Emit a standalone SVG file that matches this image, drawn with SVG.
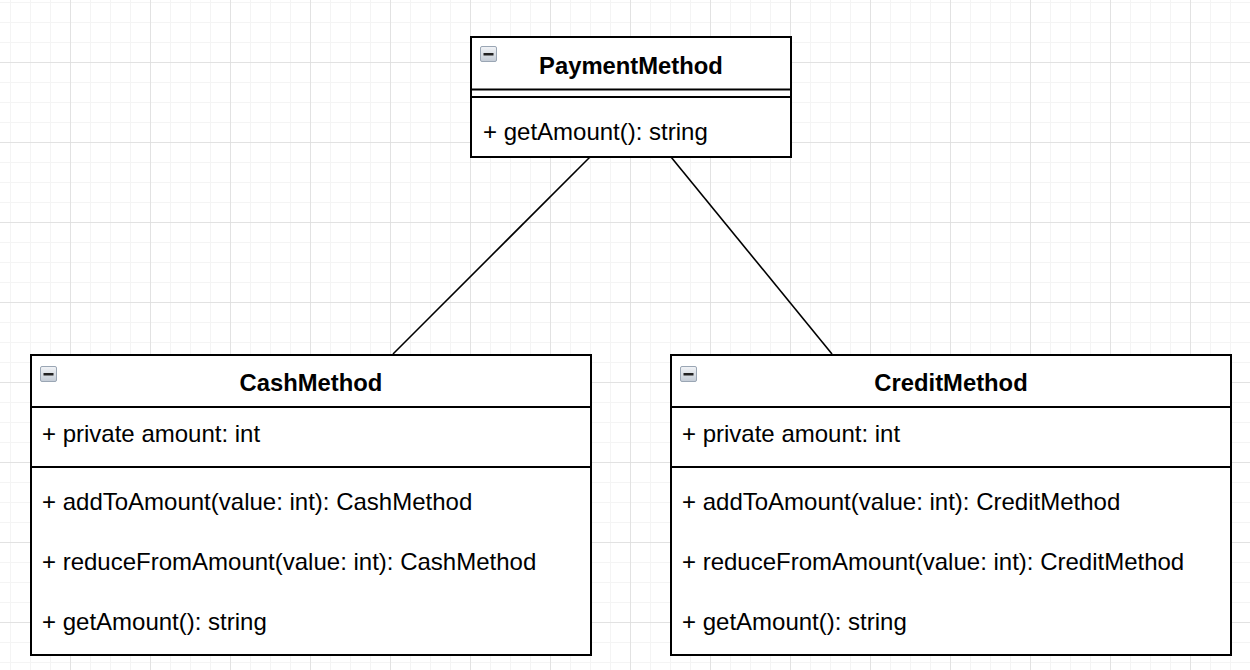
<svg xmlns="http://www.w3.org/2000/svg" width="1250" height="670" viewBox="0 0 1250 670">
<style>
.box{fill:#fff;stroke:#000;stroke-width:2}
.sep{stroke:#000;stroke-width:2}
.title{font-family:"Liberation Sans",Arial,sans-serif;font-size:23.8px;font-weight:bold;fill:#000;text-anchor:middle}
.t{font-family:"Liberation Sans",Arial,sans-serif;font-size:24px;fill:#000}
.edge{stroke:#000;stroke-width:1.6;fill:none}
</style>
<defs>
<pattern id="minor" x="10" y="2" width="20" height="20" patternUnits="userSpaceOnUse">
<path d="M0 0V20M0 0H20" stroke="#f4f4f4" stroke-width="2" fill="none"/>
</pattern>
<pattern id="major" x="70" y="62" width="80" height="80" patternUnits="userSpaceOnUse">
<path d="M0 0V80M0 0H80" stroke="#dddddd" stroke-width="1.5" fill="none"/>
</pattern>
<linearGradient id="ig" x1="0" y1="0" x2="0" y2="1">
<stop offset="0" stop-color="#f2f4f7"/>
<stop offset="1" stop-color="#c4ccd6"/>
</linearGradient>
<g id="icon">
<rect x="0.5" y="0.5" width="16" height="15" rx="1.5" fill="url(#ig)" stroke="#9aa6b4" stroke-width="1"/>
<rect x="3.5" y="7" width="10" height="2.5" fill="#222"/>
</g>
</defs>
<rect width="1250" height="670" fill="#fff"/>
<rect width="1250" height="670" fill="url(#minor)"/>
<rect width="1250" height="670" fill="url(#major)"/>
<g id="connectors">
<line class="edge" x1="590" y1="157" x2="393" y2="354"/>
<line class="edge" x1="671" y1="157" x2="832" y2="354"/>
</g>
<g id="PaymentMethod">
<rect class="box" x="471" y="37" width="320" height="120"/>
<line class="sep" x1="471" y1="89.5" x2="791" y2="89.5"/>
<line class="sep" x1="471" y1="97" x2="791" y2="97"/>
<use href="#icon" x="480" y="46"/>
<text class="title" x="631" y="74">PaymentMethod</text>
<text class="t" x="483" y="140">+ getAmount(): string</text>
</g>
<g id="CashMethod">
<rect class="box" x="31" y="355" width="560" height="300"/>
<line class="sep" x1="31" y1="407" x2="591" y2="407"/>
<line class="sep" x1="31" y1="467" x2="591" y2="467"/>
<use href="#icon" x="40" y="366"/>
<text class="title" x="311" y="391">CashMethod</text>
<text class="t" x="42" y="442">+ private amount: int</text>
<text class="t" x="42" y="510">+ addToAmount(value: int): CashMethod</text>
<text class="t" x="42" y="570">+ reduceFromAmount(value: int): CashMethod</text>
<text class="t" x="42" y="630">+ getAmount(): string</text>
</g>
<g id="CreditMethod">
<rect class="box" x="671" y="355" width="560" height="300"/>
<line class="sep" x1="671" y1="407" x2="1231" y2="407"/>
<line class="sep" x1="671" y1="467" x2="1231" y2="467"/>
<use href="#icon" x="680" y="366"/>
<text class="title" x="951" y="391">CreditMethod</text>
<text class="t" x="682" y="442">+ private amount: int</text>
<text class="t" x="682" y="510">+ addToAmount(value: int): CreditMethod</text>
<text class="t" x="682" y="570">+ reduceFromAmount(value: int): CreditMethod</text>
<text class="t" x="682" y="630">+ getAmount(): string</text>
</g>
</svg>
